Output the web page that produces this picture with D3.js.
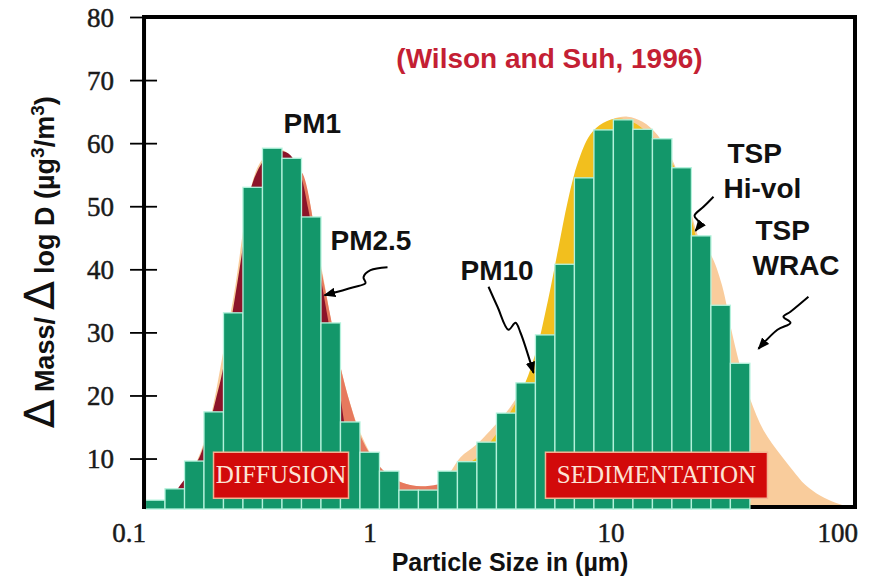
<!DOCTYPE html>
<html>
<head>
<meta charset="utf-8">
<script src="https://cdn.jsdelivr.net/npm/d3@7"></script>
<style>
  body { margin: 0; background: #fff; }
  svg { display: block; }
  text { font-family: "Liberation Sans", Arial, sans-serif; }
</style>
</head>
<body>
<script>
// Size of the page
var width = 870;
var height = 576;

// Bin lower edges (µm), the last value closes the final bin
var binEdges = [0.1176, 0.1417, 0.1708, 0.2057, 0.2478, 0.2985, 0.3597, 0.4334,
                0.5222, 0.6290, 0.7578, 0.9129, 1.0998, 1.325, 1.596, 1.923,
                2.317, 2.791, 3.363, 4.051, 4.881, 5.880, 7.084, 8.535,
                10.28, 12.39, 14.93, 17.98, 21.66, 26.10, 31.44, 37.88];

// Bar heights, Δ Mass / Δ log D
var barValues = [3.4, 5.2, 9.6, 17.4, 33.1, 53.0, 59.2, 57.6, 48.3, 31.5, 15.8,
                 11.0, 8.0, 5.0, 5.0, 8.0, 9.5, 12.6, 17.2, 22.0, 29.6, 40.8,
                 54.5, 62.1, 63.7, 62.2, 60.7, 56.1, 45.3, 34.3, 25.1];

// Sampler curves as [size µm, value]
var wracCurve = [[0.123, 2.0], [0.157, 4.5], [0.199, 11], [0.265, 33], [0.353, 57],
                 [0.427, 59], [0.517, 55.5], [0.626, 41], [0.758, 24.5], [0.918, 14],
                 [1.111, 8.5], [1.344, 6.3], [1.628, 5.6], [1.971, 6.0], [2.386, 10.2],
                 [2.754, 12.1], [3.178, 14.5], [3.847, 18.2], [4.658, 23.6], [5.374, 30.4],
                 [5.913, 36.7], [6.507, 44.6], [7.158, 53.4], [7.877, 59.0], [8.834, 62.3],
                 [10.19, 63.8], [11.77, 64.2], [13.58, 63.4], [15.67, 61.3], [18.08, 57.3],
                 [20.87, 51.0], [23.5, 44.6], [26.1, 42.3], [29.0, 37.5], [32.08, 29.6],
                 [35.30, 23.2], [38.10, 19.3], [43.14, 14.5], [50.75, 10.6], [56.91, 8.2],
                 [64.44, 5.8], [74.36, 4.1], [85.83, 3.0], [99.06, 2.3], [114.3, 2.0]];

var hiVolCurve = [[1.70, 2.0], [1.961, 5.0], [2.374, 8.2], [2.874, 10.6], [3.479, 14.8],
                  [4.212, 20.1], [4.861, 26.4], [5.504, 35.1], [6.057, 43.1], [6.664, 51.0],
                  [7.331, 57.0], [8.220, 61.3], [9.309, 63.2], [10.74, 63.9], [12.40, 63.3],
                  [14.31, 61.6], [16.51, 59.2], [19.05, 55.0], [21.99, 47.0], [25.38, 36.7],
                  [29.02, 25.6], [32.86, 14.5], [36.14, 6.6], [38.64, 2.0]];

var pm10Curve = [[0.36, 2.0], [0.45, 50], [0.517, 55.5], [0.626, 40.5], [0.689, 32.5],
                 [0.758, 24.5], [0.834, 18.5], [0.935, 12.9], [1.059, 9.5], [1.222, 7.2],
                 [1.411, 6.0], [1.628, 5.6], [1.915, 5.9], [2.168, 6.4], [2.40, 5.0], [2.70, 2.0]];

var pm25Curve = [[0.136, 2.0], [0.149, 3.4], [0.164, 5.8], [0.181, 7.9], [0.199, 10.6],
                 [0.230, 19.3], [0.246, 24.0], [0.270, 33.1], [0.300, 44.2], [0.321, 52.6],
                 [0.353, 56.5], [0.388, 58.4], [0.427, 58.8], [0.470, 58.1], [0.517, 55.0],
                 [0.558, 49.4], [0.614, 40.7], [0.676, 31.6], [0.730, 24.0], [0.788, 15.3],
                 [0.850, 7.4], [0.900, 2.0]];

// Tick labels
var xTicks = [0.1, 1, 10, 100];
var yTicks = [10, 20, 30, 40, 50, 60, 70, 80];

// Text labels placed at [size, value]
var labels = [
  {text: "PM1", at: [0.4396, 61.6]},
  {text: "PM2.5", at: [0.689, 43.1]},
  {text: "PM10", at: [2.386, 38.3]},
  {text: "TSP", at: [30.59, 56.9]},
  {text: "Hi-vol", at: [29.44, 51.3]},
  {text: "TSP", at: [39.96, 44.6]},
  {text: "WRAC", at: [38.83, 39.1]}
];

// Wavy arrows: tip at [size, value], path offsets in pixels from the tip
var arrows = [
  {tip: [0.6506, 35.9], path: [[63, -28], [46, -25], [39, -18], [41, -12], [29, -8], [0, 0]]},
  {tip: [4.792, 23.6], path: [[-45, -86], [-36, -66], [-25, -43], [-18, -50], [-13, -40], [0, 0]]},
  {tip: [22.53, 46.1], path: [[18, -34], [8, -24], [-1, -15], [4, -8], [0, 0]]},
  {tip: [41.1, 27.4], path: [[50, -52], [32, -37], [25, -32], [32, -26], [19, -19], [0, 0]]}
];

// Red boxes along the bottom
var boxes = [
  {text: "DIFFUSION", from: 0.2253, to: 0.8183},
  {text: "SEDIMENTATION", from: 5.373, to: 44.8}
];
var boxLow = 3.7, boxHigh = 11.0;

var xMin = 0.116, xMax = 103.4, yMin = 2, yMax = 80;

// Scales
var x = d3.scaleLog().domain([0.1, 100]).range([128.5, 851.5]);
var y = d3.scaleLinear().domain([yMin, yMax]).range([509, 17]);

var svg = d3.select("body")
            .append("svg")
            .attr("width", width)
            .attr("height", height);

// plot edges (window.top is reserved, so use other names)
var plotL = x(xMin), plotR = x(xMax), plotT = y(yMax), plotB = y(yMin);

var defs = svg.append("defs");
defs.append("clipPath").attr("id", "plot")
    .append("rect")
    .attr("x", plotL).attr("y", plotT)
    .attr("width", plotR - plotL).attr("height", plotB - plotT);

// Arrow head
defs.append("marker")
    .attr("id", "head")
    .attr("viewBox", "0 0 10 8")
    .attr("refX", 9).attr("refY", 4)
    .attr("markerWidth", 12).attr("markerHeight", 10)
    .attr("markerUnits", "userSpaceOnUse")
    .attr("orient", "auto")
    .append("path")
    .attr("d", "M0,0 L10,4 L0,8 Z")
    .attr("fill", "#000");

// Sampler areas behind the bars
var area = d3.area()
             .curve(d3.curveCatmullRom)
             .x(function(d) { return x(d[0]); })
             .y0(plotB)
             .y1(function(d) { return y(d[1]); });

var curves = svg.append("g").attr("clip-path", "url(#plot)");
curves.append("path").attr("d", area(wracCurve)).attr("fill", "#f9cc9c");
curves.append("path").attr("d", area(hiVolCurve)).attr("fill", "#f2bf1e");
curves.append("path").attr("d", area(pm10Curve)).attr("fill", "#e6795e");
curves.append("path").attr("d", area(pm25Curve)).attr("fill", "#8c1429");

// Bottom line (mostly hidden under the bars)
svg.append("line")
   .attr("x1", plotL).attr("x2", plotR)
   .attr("y1", plotB - 2).attr("y2", plotB - 2)
   .attr("stroke", "#000").attr("stroke-width", 4);

// Bars
svg.selectAll(".bar")
   .data(barValues)
   .enter()
   .append("rect")
   .attr("class", "bar")
   .attr("x", function(d, i) { return x(binEdges[i]); })
   .attr("width", function(d, i) { return x(binEdges[i + 1]) - x(binEdges[i]); })
   .attr("y", function(d) { return y(d); })
   .attr("height", function(d) { return plotB - y(d); })
   .attr("fill", "#13976a")
   .attr("stroke", "#b4f2dc")
   .attr("stroke-width", 1.3);

// Process boxes
var box = svg.selectAll(".box")
             .data(boxes)
             .enter()
             .append("g")
             .attr("class", "box");

box.append("rect")
   .attr("x", function(d) { return x(d.from); })
   .attr("y", y(boxHigh))
   .attr("width", function(d) { return x(d.to) - x(d.from); })
   .attr("height", y(boxLow) - y(boxHigh))
   .attr("fill", "#d20a0a")
   .attr("stroke", "#f3b393")
   .attr("stroke-width", 1.5);

box.append("text")
   .attr("x", function(d) { return (x(d.from) + x(d.to)) / 2; })
   .attr("y", (y(boxLow) + y(boxHigh)) / 2 + 8)
   .attr("text-anchor", "middle")
   .style("font-family", "'Liberation Serif', 'Times New Roman', serif")
   .style("font-size", "25px")
   .attr("fill", "#fde3d6")
   .text(function(d) { return d.text; });

// Frame
svg.append("path")
   .attr("d", "M" + plotL + "," + plotB + "V" + plotT + "H" + plotR + "V" + plotB)
   .attr("fill", "none")
   .attr("stroke", "#000")
   .attr("stroke-width", 4);

// Y axis
var yAxis = svg.append("g")
               .attr("transform", "translate(" + plotL + ",0)")
               .call(d3.axisLeft(y).tickValues(yTicks).tickSize(14).tickPadding(0));
yAxis.select(".domain").remove();
yAxis.selectAll("line").attr("x1", 13).attr("x2", -14).attr("stroke-width", 1.8);
yAxis.selectAll("text")
     .attr("x", -30)
     .attr("dy", "0.34em")
     .style("font-family", "'Liberation Serif', 'Times New Roman', serif")
     .style("font-size", "27px")
     .attr("fill", "#1a1a1a")
     .attr("stroke", "#1a1a1a")
     .attr("stroke-width", 0.5);

// X axis
var xAxis = svg.append("g")
               .attr("transform", "translate(0," + plotB + ")")
               .call(d3.axisBottom(x).tickValues(xTicks).tickSize(0)
                       .tickFormat(function(d) { return String(d); }));
xAxis.select(".domain").remove();
xAxis.selectAll("text")
     .attr("y", 33)
     .attr("dy", 0)
     .style("font-family", "'Liberation Serif', 'Times New Roman', serif")
     .style("font-size", "27px")
     .attr("fill", "#1a1a1a")
     .attr("stroke", "#1a1a1a")
     .attr("stroke-width", 0.5)
     .attr("text-anchor", function(d) { return d === 100 ? "end" : "middle"; })
     .attr("dx", function(d) { return d === 100 ? 6 : 0; });

// Axis titles
svg.append("text")
   .attr("x", 510)
   .attr("y", 570.5)
   .attr("text-anchor", "middle")
   .style("font-size", "25px")
   .style("font-weight", "bold")
   .attr("fill", "#111")
   .text("Particle Size in (µm)");

var yTitle = svg.append("text")
                .attr("transform", "translate(54,262) rotate(-90)")
                .attr("text-anchor", "middle")
                .style("font-size", "27px")
                .style("font-weight", "bold")
                .attr("fill", "#111");
yTitle.append("tspan").style("font-family", "'DejaVu Sans', sans-serif")
      .style("font-weight", "normal").style("font-size", "42px").text("∆");
yTitle.append("tspan").text(" Mass/ ");
yTitle.append("tspan").style("font-family", "'DejaVu Sans', sans-serif")
      .style("font-weight", "normal").style("font-size", "42px").text("∆");
yTitle.append("tspan").text(" log D (µg");
yTitle.append("tspan").attr("dy", -10).style("font-size", "19px").text("3");
yTitle.append("tspan").attr("dy", 10).text("/m");
yTitle.append("tspan").attr("dy", -10).style("font-size", "19px").text("3");
yTitle.append("tspan").attr("dy", 10).text(")");

// Source title
svg.append("text")
   .attr("x", x(5.583))
   .attr("y", y(71.9))
   .attr("text-anchor", "middle")
   .style("font-size", "28px")
   .style("font-weight", "bold")
   .attr("fill", "#c41f34")
   .text("(Wilson and Suh, 1996)");

// Sampler labels
svg.selectAll(".label")
   .data(labels)
   .enter()
   .append("text")
   .attr("class", "label")
   .attr("x", function(d) { return x(d.at[0]); })
   .attr("y", function(d) { return y(d.at[1]); })
   .style("font-size", "28px")
   .style("font-weight", "bold")
   .attr("fill", "#111")
   .text(function(d) { return d.text; });

// Wavy arrows
var wave = d3.line().curve(d3.curveCatmullRom);
svg.selectAll(".arrow")
   .data(arrows)
   .enter()
   .append("path")
   .attr("class", "arrow")
   .attr("transform", function(d) { return "translate(" + x(d.tip[0]) + "," + y(d.tip[1]) + ")"; })
   .attr("d", function(d) { return wave(d.path); })
   .attr("fill", "none")
   .attr("stroke", "#000")
   .attr("stroke-width", 2)
   .attr("marker-end", "url(#head)");
</script>
</body>
</html>
